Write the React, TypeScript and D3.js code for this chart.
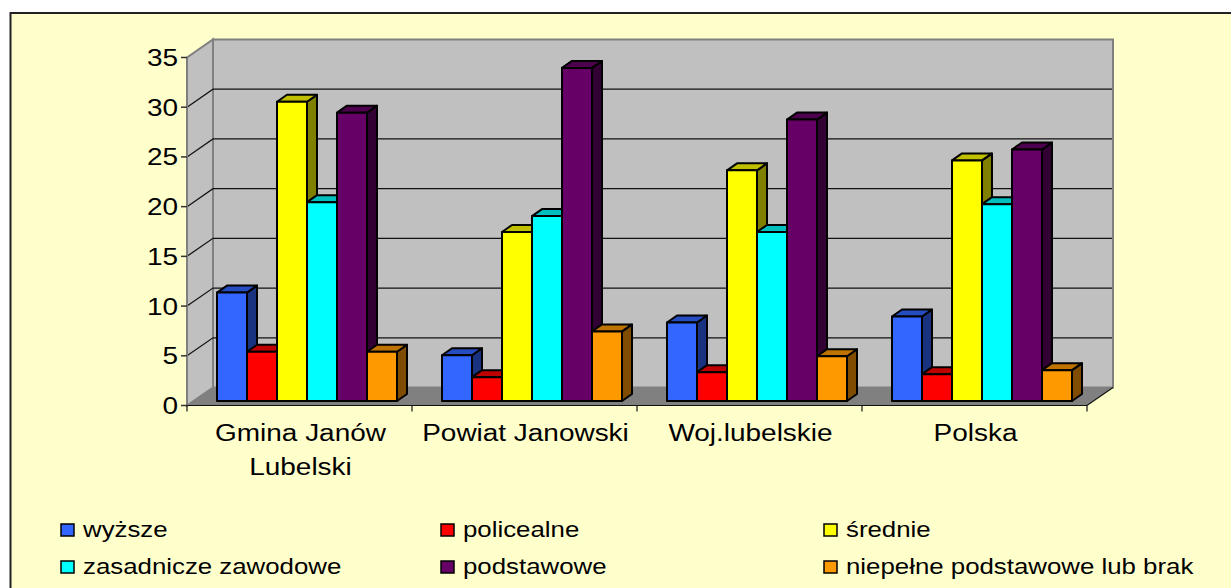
import React from "react";
import * as d3 from "d3";

const categories = [["Gmina Janów", "Lubelski"], ["Powiat Janowski"], ["Woj.lubelskie"], ["Polska"]];
const seriesNames = ["wyższe", "policealne", "średnie", "zasadnicze zawodowe", "podstawowe", "niepełne podstawowe lub brak"];
const wyzsze = [10.9, 4.6, 7.9, 8.5];
const policealne = [4.95, 2.4, 2.9, 2.7];
const srednie = [30.1, 17, 23.2, 24.2];
const zasadnicze = [20, 18.6, 17, 19.8];
const podstawowe = [29, 33.5, 28.3, 25.3];
const niepelne = [4.95, 7, 4.5, 3.1];
const allSeries = [wyzsze, policealne, srednie, zasadnicze, podstawowe, niepelne];
const colors = ["#3366ff", "#ff0000", "#ffff00", "#00ffff", "#660066", "#ff9900"];
const yTicks = [0, 5, 10, 15, 20, 25, 30, 35];

const width = 1231;
const height = 588;
// front edge of the floor and the depth of the 3D box
const x0 = 187;
const x1 = 1087;
const depthX = 26;
const depthY = 18;
const barDepthX = 10;
const barDepthY = 7;
// the original text is a stretched Arial, so labels get scaled sideways
const stretch = 1.19;
const font = "'Liberation Sans', Arial, sans-serif";

const x = d3.scaleBand<number>().domain(d3.range(4)).range([x0, x1]);
const y = d3.scaleLinear().domain([0, 35]).range([405.5, 57.5]);
const barW = 30;

const poly = (pts: number[][]) => d3.line()(pts as [number, number][]) + "Z";

function Label({ px, py, size, anchor, children }: any) {
  return (
    <text
      transform={`translate(${px},${py}) scale(${stretch},1)`}
      textAnchor={anchor}
      fontSize={size}
      fill="#000"
    >
      {children}
    </text>
  );
}

export default function App() {
  const bottom = y(0);
  const top = y(35);
  return (
    <svg
      width={width}
      height={height}
      style={{ position: "absolute", left: 0, top: 0 }}
      fontFamily={font}
    >
      <rect x={10.5} y={13} width={1240} height={600} fill="#ffffcc" stroke="#222" strokeWidth={2} />

      {/* walls and floor */}
      <path
        d={poly([[x0, bottom], [x0 + depthX, bottom - depthY], [x0 + depthX, top - depthY], [x0, top]])}
        fill="#c0c0c0"
        stroke="#808080"
        strokeWidth={2}
      />
      <rect
        x={x0 + depthX}
        y={top - depthY}
        width={x1 - x0}
        height={bottom - top}
        fill="#c0c0c0"
        stroke="#808080"
        strokeWidth={2}
      />
      <path
        d={poly([[x0, bottom], [x0 + depthX, bottom - depthY], [x1 + depthX, bottom - depthY], [x1, bottom]])}
        fill="#808080"
      />

      {/* gridlines */}
      {yTicks.slice(1, -1).map((t) => (
        <path
          key={t}
          d={`M${x0},${y(t)}L${x0 + depthX},${y(t) - depthY}H${x1 + depthX - 1}`}
          fill="none"
          stroke="#111"
          strokeWidth={1.2}
        />
      ))}

      {/* bars */}
      {categories.map((_, c) => {
        const start = (x(c) as number) + (x.bandwidth() - barW * 6) / 2 + 7.5;
        return allSeries.map((values, s) => {
          const left = start + s * barW;
          const right = left + barW;
          const base = bottom - 4.5;
          const tp = base - (bottom - y(values[c]));
          const col = d3.color(colors[s]) as d3.RGBColor;
          return (
            <g key={s} stroke="#000" strokeWidth={2} strokeLinejoin="round">
              <path
                d={poly([[right, base], [right + barDepthX, base - barDepthY], [right + barDepthX, tp - barDepthY], [right, tp]])}
                fill={d3.rgb(col.r * 0.5, col.g * 0.5, col.b * 0.5).toString()}
              />
              <path
                d={poly([[left, tp], [left + barDepthX, tp - barDepthY], [right + barDepthX, tp - barDepthY], [right, tp]])}
                fill={d3.rgb(col.r * 0.75, col.g * 0.75, col.b * 0.75).toString()}
              />
              <rect x={left} y={tp} width={barW} height={base - tp} fill={colors[s]} />
            </g>
          );
        });
      })}

      {/* axes */}
      <path d={`M${x0},${top}V${bottom}`} fill="none" stroke="#808080" strokeWidth={2} />
      <path d={`M${x0},${bottom}H${x1}L${x1 + depthX},${bottom - depthY}`} fill="none" stroke="#111" strokeWidth={1.2} />
      {yTicks.map((t) => (
        <g key={t}>
          <line x1={x0 - 6} x2={x0} y1={y(t)} y2={y(t)} stroke="#333" strokeWidth={1.5} />
          <Label px={x0 - 9} py={y(t) + 8.5} size={23.5} anchor="end">
            {t}
          </Label>
        </g>
      ))}
      {d3.range(5).map((i) => {
        const tx = i < 4 ? (x(i) as number) : x1;
        return <line key={i} x1={tx} x2={tx} y1={bottom} y2={bottom + 6} stroke="#111" strokeWidth={1.2} />;
      })}
      {categories.map((lines, c) =>
        lines.map((l, i) => (
          <Label key={l} px={(x(c) as number) + x.bandwidth() / 2 + 1} py={441 + i * 33.5} size={23.5} anchor="middle">
            {l}
          </Label>
        ))
      )}

      {/* legend */}
      {seriesNames.map((name, i) => {
        const lx = [61, 441, 824][i % 3];
        const ly = i < 3 ? 530 : 567;
        return (
          <g key={name}>
            <rect x={lx} y={ly - 6} width={13} height={12} fill={colors[i]} stroke="#000" strokeWidth={1.5} />
            <Label px={lx + 22} py={ly + 7} size={21.7} anchor="start">
              {name}
            </Label>
          </g>
        );
      })}
    </svg>
  );
}
